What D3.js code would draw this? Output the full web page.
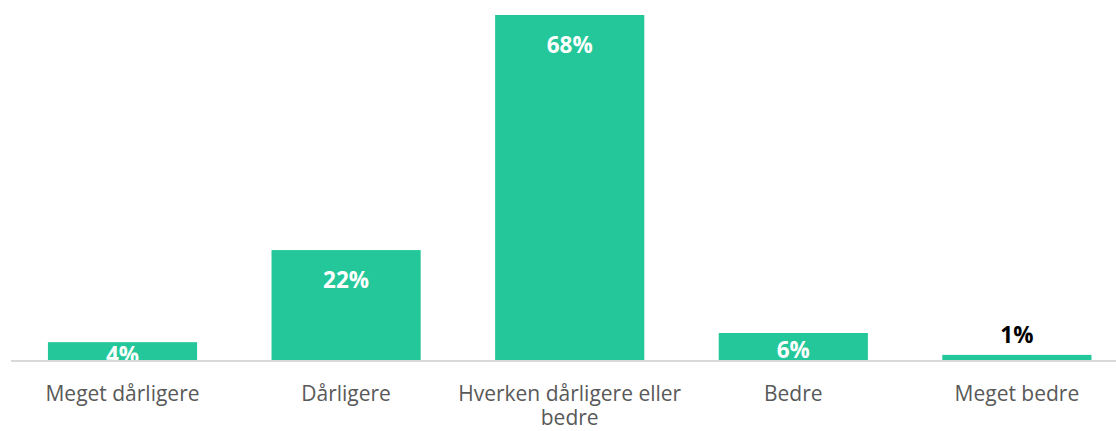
<!DOCTYPE html>
<html><head><meta charset="utf-8">
<script src="https://cdn.jsdelivr.net/npm/d3@7"></script>
<style>body{margin:0;background:#fff;}svg{display:block;}</style>
</head><body>
<svg id="chart" width="1116" height="431"></svg>
<script>
const categories = ["Meget dårligere", "Dårligere", "Hverken dårligere eller bedre", "Bedre", "Meget bedre"];
const categoryLines = [["Meget dårligere"], ["Dårligere"], ["Hverken dårligere eller", "bedre"], ["Bedre"], ["Meget bedre"]];
const values = [3.7, 21.8, 68, 5.5, 1.2];

const svg = d3.select("#chart");
const W = 1116, H = 431;
const baseY = 361;
const x = d3.scaleBand().domain(categories).range([10.7, 1128.7]).paddingInner(0.333).paddingOuter(0.1665);
const y = d3.scaleLinear().domain([0, 68]).range([baseY, 15]);

svg.append("defs").append("clipPath").attr("id", "plotClip")
  .append("rect").attr("x", 0).attr("y", 0).attr("width", W).attr("height", baseY);

const g = svg.append("g").attr("clip-path", "url(#plotClip)");
g.selectAll("rect.bar").data(values).join("rect")
  .attr("class", "bar")
  .attr("x", (d, i) => x(categories[i]))
  .attr("width", x.bandwidth())
  .attr("y", d => y(d))
  .attr("height", d => baseY - y(d))
  .attr("fill", "#23C799");

g.selectAll("text.val").data(values).join("text")
  .attr("class", "val")
  .attr("x", (d, i) => x(categories[i]) + x.bandwidth() / 2)
  .attr("y", d => {
    const h = baseY - y(d);
    if (h < 10) return y(d) - 12;
    if (h < 40) return (y(d) + baseY) / 2 + 11;
    return y(d) + 38;
  })
  .attr("text-anchor", "middle")
  .attr("font-family", "'Open Sans', sans-serif")
  .attr("font-weight", "bold")
  .attr("font-size", 22.5)
  .attr("fill", d => (baseY - y(d)) < 10 ? "#000" : "#fff")
  .text(d => Math.round(d) + "%");

svg.append("line")
  .attr("x1", 11).attr("x2", W)
  .attr("y1", baseY).attr("y2", baseY)
  .attr("stroke", "#D9D9D9").attr("stroke-width", 2);

const lab = svg.selectAll("text.cat").data(categoryLines).join("text")
  .attr("class", "cat")
  .attr("text-anchor", "middle")
  .attr("font-family", "'Open Sans', sans-serif")
  .attr("font-size", 21)
  .attr("fill", "#595959");
lab.each(function(lines, i) {
  const t = d3.select(this);
  lines.forEach((l, j) => {
    t.append("tspan")
      .attr("x", x(categories[i]) + x.bandwidth() / 2)
      .attr("y", 401 + j * 24)
      .text(l);
  });
});
</script>
</body></html>
